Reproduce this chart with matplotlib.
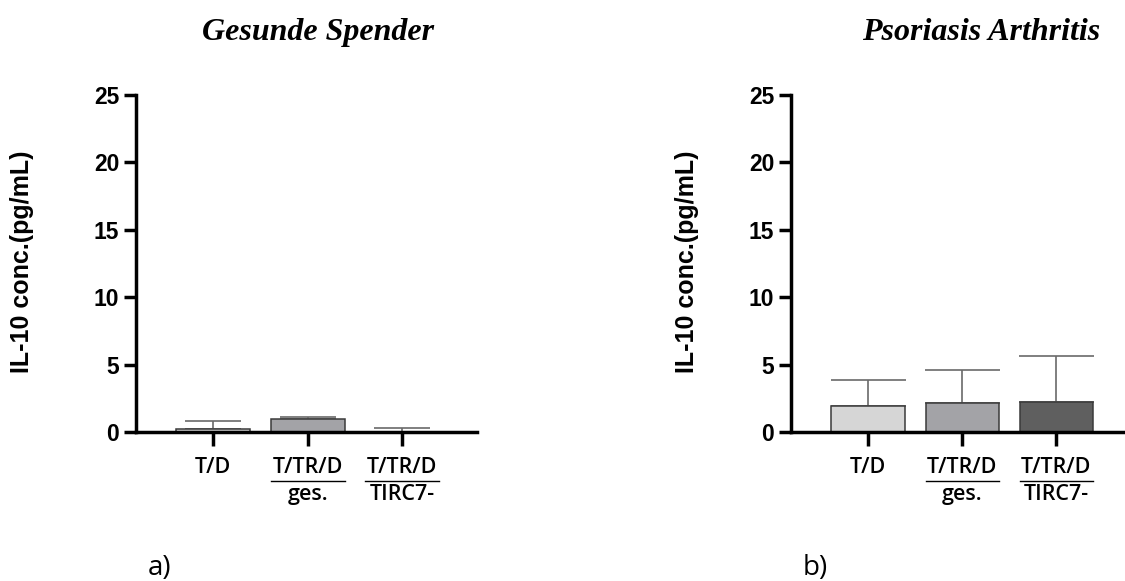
import matplotlib
matplotlib.use("Agg")
import matplotlib.pyplot as plt
from matplotlib.lines import Line2D
from matplotlib.transforms import ScaledTranslation
import numpy as np

# IL-10 concentration (pg/mL), mean and upper SD per condition
groups = ["T/D", "T/TR/D", "T/TR/D"]
sublabels = [None, "ges.", "TIRC7-"]

healthy_mean = [0.25, 0.95, 0.0]
healthy_sd = [0.55, 0.15, 0.3]

psa_mean = [1.9, 2.15, 2.25]
psa_sd = [1.95, 2.45, 3.4]

healthy_colors = ["#d6d6d6", "#a3a3a7", "#5f5f5f"]
psa_colors = ["#d6d6d6", "#a3a3a7", "#5f5f5f"]

yticks = [0, 5, 10, 15, 20, 25]

W, H = 1125, 581
fig = plt.figure(figsize=(W / 100, H / 100), dpi=100)

label_font = "Open Sans"
axis_font = "Liberation Sans"
title_font = "Liberation Serif"


def draw_panel(left_px, right_px, xlim, means, sds, colors, capsize, title, title_x, ylab_x, tag, tag_x):
    bottom_px, top_px = 432, 95
    ax = fig.add_axes([left_px / W, 1 - bottom_px / H,
                       (right_px - left_px) / W, (bottom_px - top_px) / H])
    x = np.arange(len(means))
    width = 0.78
    ax.bar(x, means, width=width, color=colors, edgecolor="#3a3a3a",
           linewidth=1.1, zorder=2)
    ax.errorbar(x, means, yerr=[np.zeros(len(sds)), sds], fmt="none",
                ecolor="#6a6a6a", elinewidth=1.2, capsize=capsize,
                capthick=1.2, zorder=1)

    ax.set_xlim(*xlim)
    ax.set_ylim(0, 25)
    ax.set_yticks(yticks)
    ax.set_xticks(x)
    ax.set_xticklabels(groups, fontfamily=label_font, fontweight="semibold", fontsize=15.5)
    for lbl in ax.get_xticklabels():
        lbl.set_va("baseline")

    for side in ["top", "right"]:
        ax.spines[side].set_visible(False)
    for side in ["left", "bottom"]:
        ax.spines[side].set_linewidth(2.5)
    ax.tick_params(axis="x", length=10, width=2.5, pad=19.5)
    ax.tick_params(axis="y", length=8.5, width=2.5, pad=3.5)
    for lbl in ax.get_yticklabels():
        lbl.set_fontfamily(axis_font)
        lbl.set_fontweight("bold")
        lbl.set_fontsize(16.5)

    # second line of the fraction-style labels
    px = 1 / 100
    for i, sub in enumerate(sublabels):
        if sub is None:
            continue
        tr_line = ax.get_xaxis_transform() + ScaledTranslation(0, -49 * px, fig.dpi_scale_trans)
        ax.add_line(Line2D([i - width / 2, i + width / 2], [0, 0], transform=tr_line,
                           color="black", linewidth=1.0, clip_on=False))
        tr_text = ax.get_xaxis_transform() + ScaledTranslation(0, -68 * px, fig.dpi_scale_trans)
        ax.text(i, 0, sub, transform=tr_text, ha="center", va="baseline",
                fontfamily=label_font, fontweight="semibold", fontsize=15.5, clip_on=False)

    ax.set_ylabel("IL-10 conc.(pg/mL)", fontfamily=axis_font, fontweight="bold", fontsize=18)
    ax.yaxis.label.set_va("center")
    ax.yaxis.set_label_coords((ylab_x - left_px) / (right_px - left_px), 0.505)

    fig.text(title_x / W, 1 - 40 / H, title, ha="center", va="baseline",
             fontfamily=title_font, fontweight="bold", fontstyle="italic", fontsize=23)
    fig.text(tag_x / W, 1 - 575 / H, tag, ha="center", va="baseline",
             fontfamily=label_font, fontsize=20)
    return ax


draw_panel(136, 477, (-0.815, 2.79), healthy_mean, healthy_sd, healthy_colors,
           20, "Gesunde Spender", 318, 22, "a)", 160)
draw_panel(791, 1124, (-0.82, 2.72), psa_mean, psa_sd, psa_colors,
           27, "Psoriasis Arthritis", 981, 687, "b)", 815)

fig.savefig("out.png", dpi=100)
